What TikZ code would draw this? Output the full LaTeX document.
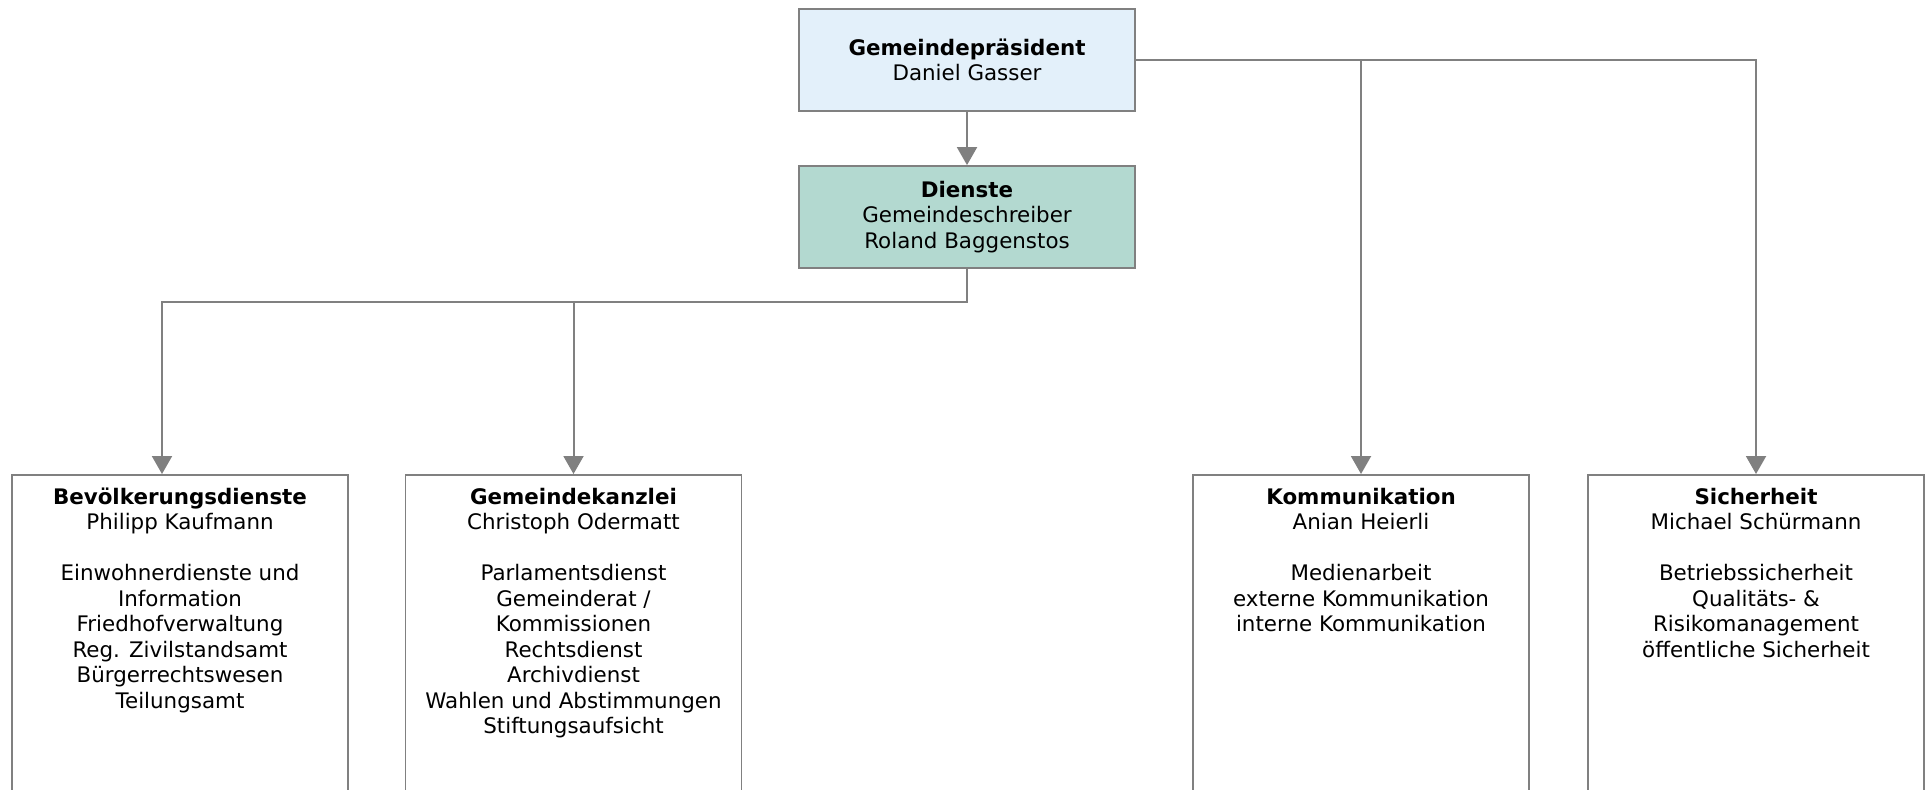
\documentclass[tikz,border=0pt]{standalone}
\usepackage{fontspec}
\setmainfont{DejaVu Sans}
\usetikzlibrary{arrows.meta}
\definecolor{linegray}{HTML}{808080}
\definecolor{presblue}{HTML}{E3F0FA}
\definecolor{dienstgreen}{HTML}{B3D9D0}
\tikzset{
  unit/.style={draw=linegray, line width=0.9pt, minimum width=168pt, minimum height=51pt, align=center, inner sep=0pt},
  dept/.style={draw=linegray, line width=0.9pt, anchor=north, inner xsep=0pt, inner ysep=6.5pt},
  link/.style={draw=linegray, line width=1pt, -{Triangle[width=10pt,length=9pt]}}
}
\newcommand{\depttext}[3]{\parbox[t][160pt][t]{168pt}{\centering\textbf{#1}\\#2\\[12.75pt]#3}}
\begin{document}
\begin{tikzpicture}[x=1pt,y=1pt,font=\fontsize{10.7}{12.75}\selectfont]
\clip (0,0) rectangle (965,-394.5);
\node[unit, fill=presblue] (praes) at (483.5,-30) {\textbf{Gemeindepräsident}\\Daniel Gasser};
\node[unit, fill=dienstgreen] (dienste) at (483.5,-108.5) {\textbf{Dienste}\\Gemeindeschreiber\\Roland Baggenstos};
% Abteilungen
\node[dept] (bev) at (90,-237) {\depttext{Bevölkerungsdienste}{Philipp Kaufmann}{Einwohnerdienste und\\Information\\Friedhofverwaltung\\Reg. Zivilstandsamt\\Bürgerrechtswesen\\Teilungsamt}};
\node[dept] (kanzlei) at (286.75,-237) {\depttext{Gemeindekanzlei}{Christoph Odermatt}{Parlamentsdienst\\Gemeinderat /\\Kommissionen\\Rechtsdienst\\Archivdienst\\Wahlen und Abstimmungen\\Stiftungsaufsicht}};
\node[dept] (kom) at (680.5,-237) {\depttext{Kommunikation}{Anian Heierli}{Medienarbeit\\externe Kommunikation\\interne Kommunikation}};
\node[dept] (sich) at (878,-237) {\depttext{Sicherheit}{Michael Schürmann}{Betriebssicherheit\\Qualitäts- \&\\Risikomanagement\\öffentliche Sicherheit}};
% Verbindungen
\coordinate (split) at (483.5,-151);
\draw[link] (praes) -- (dienste);
\draw[link] (dienste.south) -- (split) -| ([xshift=-9pt]bev.north);
\draw[link] (split) -| (kanzlei.north);
\draw[link] (praes.east) -| (kom.north);
\draw[link] (praes.east) -| (sich.north);
\end{tikzpicture}
\end{document}
